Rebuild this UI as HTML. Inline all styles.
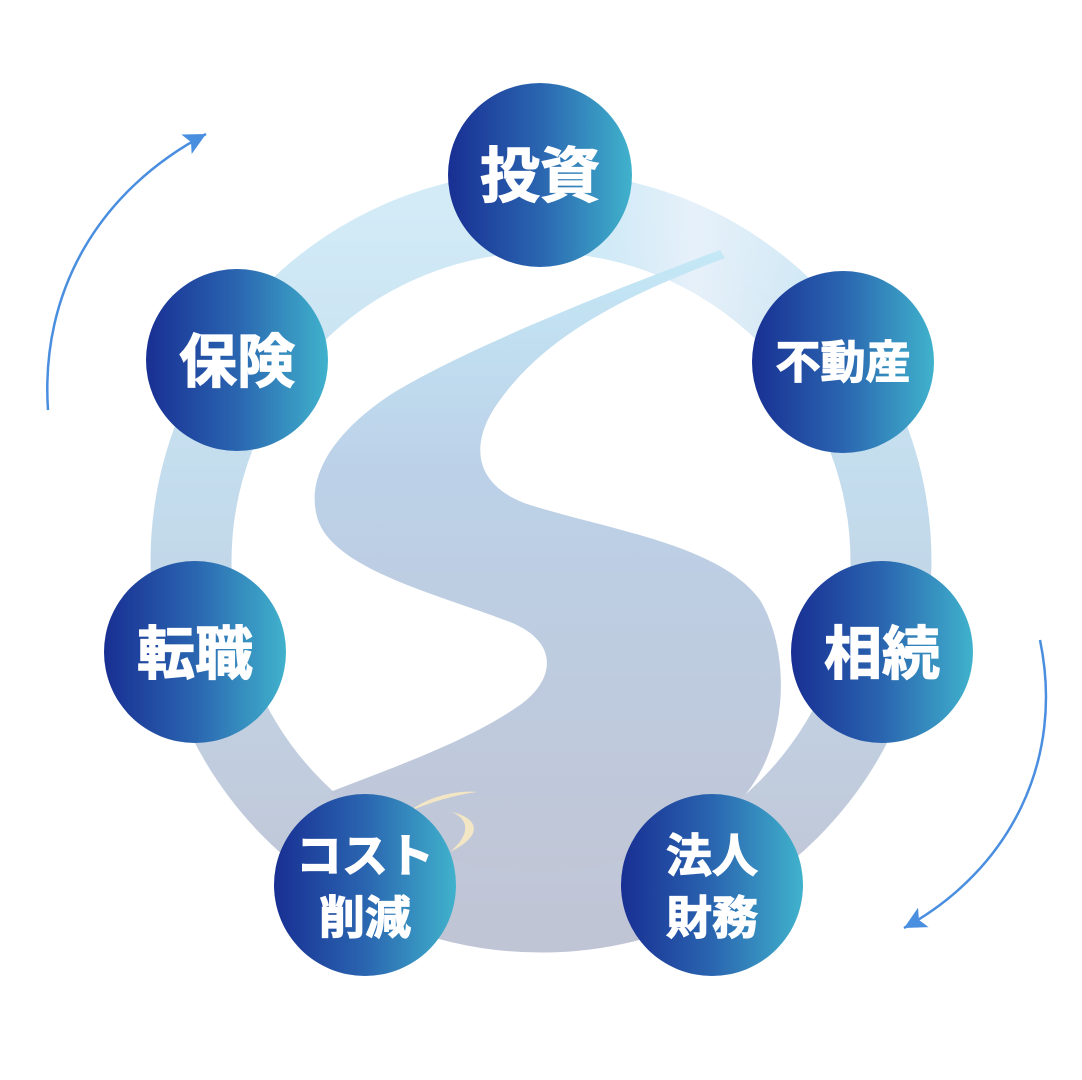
<!DOCTYPE html>
<html><head><meta charset="utf-8"><style>
html,body{margin:0;padding:0;background:#fff;}
svg{display:block;}
text{font-family:"Liberation Sans","Noto Sans CJK JP",sans-serif;font-weight:bold;fill:#fff;stroke:#fff;stroke-width:1.2;text-anchor:middle;}
</style></head><body>
<svg width="1082" height="1080" viewBox="0 0 1082 1080" xmlns="http://www.w3.org/2000/svg">
<defs>
<linearGradient id="ring" x1="0" y1="0" x2="0" y2="1">
<stop offset="0" stop-color="#d2ebf7"/><stop offset="0.4" stop-color="#c3dced"/><stop offset="1" stop-color="#c0c5d6"/>
</linearGradient>
<linearGradient id="ringtr" x1="0" y1="0" x2="1" y2="0">
<stop offset="0" stop-color="#bfe6f5" stop-opacity="0.6"/><stop offset="0.55" stop-color="#e9f1fa" stop-opacity="0.9"/><stop offset="1" stop-color="#e9f1fa" stop-opacity="0"/>
</linearGradient>
<linearGradient id="river" x1="0" y1="0" x2="0" y2="1">
<stop offset="0" stop-color="#c4e8f6"/><stop offset="0.35" stop-color="#bcd1e8"/><stop offset="1" stop-color="#c0c6d6"/>
</linearGradient>
<linearGradient id="node" x1="0" y1="0" x2="1" y2="0">
<stop offset="0" stop-color="#182f93"/><stop offset="0.5" stop-color="#2a65b0"/><stop offset="1" stop-color="#40b2cc"/>
</linearGradient>
<marker id="ah" markerWidth="26" markerHeight="26" refX="22" refY="11" orient="auto" markerUnits="userSpaceOnUse" viewBox="0 0 26 22">
<path d="M0,0 L22,11 L0,22 L5,11 Z" fill="#4a8ee0"/>
</marker>
</defs>
<circle cx="541" cy="562" r="350" fill="none" stroke="url(#ring)" stroke-width="81"/>
<path d="M 541 212 A 350 350 0 0 1 820 350" fill="none" stroke="url(#ringtr)" stroke-width="81"/>
<path d="M 720 250 C 640 280 470 345 390 395 C 330 435 305 480 318 520 C 335 570 440 595 510 622 C 560 642 555 680 520 705 C 470 740 400 765 330 792
 A 310 310 0 0 0 541 872 A 310 310 0 0 0 745 795
 C 790 740 790 650 760 600 C 720 545 610 530 530 505 C 470 485 470 440 500 400 C 550 330 640 290 725 258 Z" fill="url(#river)"/>
<path d="M 408 812 C 430 795 460 790 477 792 C 455 795 430 802 408 812 Z" fill="#f3e6c4"/>
<path d="M 452 812 C 478 818 485 835 450 852 C 470 835 470 820 452 812 Z" fill="#f3e6c4"/>
<path d="M 48 410 C 40 290 100 190 206 134" fill="none" stroke="#4a8ee0" stroke-width="2.5" marker-end="url(#ah)"/>
<path d="M 1040 640 C 1065 760 1010 870 904 928" fill="none" stroke="#4a8ee0" stroke-width="2.5" marker-end="url(#ah)"/>
<circle cx="540" cy="175" r="92" fill="url(#node)"/>
<text x="540" y="197" font-size="60">投資</text>
<circle cx="843" cy="362" r="91" fill="url(#node)"/>
<text x="843" y="378" font-size="45">不動産</text>
<circle cx="237" cy="360" r="91" fill="url(#node)"/>
<text x="237" y="382" font-size="58">保険</text>
<circle cx="195" cy="652" r="91" fill="url(#node)"/>
<text x="195" y="674" font-size="58">転職</text>
<circle cx="882" cy="652" r="91" fill="url(#node)"/>
<text x="882" y="674" font-size="58">相続</text>
<circle cx="365" cy="885" r="91" fill="url(#node)"/>
<text x="365" y="872" font-size="46">コスト</text>
<text x="365" y="934" font-size="46">削減</text>
<circle cx="712" cy="885" r="91" fill="url(#node)"/>
<text x="712" y="872" font-size="46">法人</text>
<text x="712" y="934" font-size="46">財務</text>
</svg>
</body></html>
